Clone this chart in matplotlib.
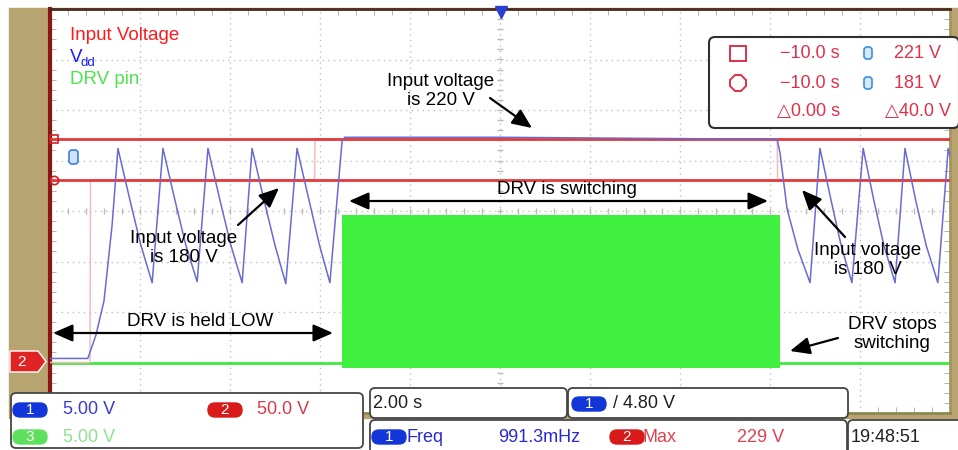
import matplotlib.pyplot as plt
from matplotlib.patches import FancyBboxPatch, Rectangle, Polygon
import numpy as np

plt.rcParams['font.family'] = ['Liberation Sans', 'DejaVu Sans']
NARROW = ['Liberation Sans', 'DejaVu Sans']

# scope settings: 2.00 s/div, trigger at centre of a 10 x 8 graticule
t_lim = (-10.0, 10.0)
ch1_scale, ch2_scale, ch3_scale = 5.0, 50.0, 5.0        # V/div
ch1_offset, ch2_offset, ch3_offset = -2.92, -3.0, -3.0   # ground level, div

# CH1 - Vdd (V)
vdd_t = [-10.0, -9.16, -8.98, -8.80, -8.62, -8.49,
         -8.22, -7.98, -7.73, -7.49,
         -7.22, -6.98, -6.73, -6.49,
         -6.22, -5.98, -5.73, -5.51,
         -5.24, -5.00, -4.76, -4.51,
         -4.24, -4.01, -3.78, -3.51, -3.45,
         0.0, 3.0, 6.16, 6.22, 6.38, 6.62, 6.89, 7.11,
         7.36, 7.58, 7.82, 8.07,
         8.31, 8.53, 8.78, 9.00,
         9.24, 9.47, 9.73, 9.96, 10.0]
vdd_v = [0.0, 0.0, 2.3, 5.7, 13.2, 20.8,
         15.6, 11.2, 7.5, 20.8,
         15.6, 11.2, 7.6, 20.8,
         15.6, 11.2, 7.5, 20.8,
         15.6, 11.2, 7.4, 20.8,
         15.6, 11.2, 7.5, 21.5, 21.9,
         21.9, 21.8, 21.7, 20.4, 14.8, 10.8, 7.5, 20.8,
         15.6, 11.2, 7.5, 20.8,
         15.6, 11.2, 7.5, 20.8,
         15.6, 11.2, 7.5, 20.8, 20.0]

# CH2 - input voltage (V)
vin_t = [-10.0, -9.11, -9.10, -4.12, -4.11, 6.16, 6.17, 10.0]
vin_v = [0, 0, 181, 181, 221, 221, 181, 181]

# CH3 - DRV pin (V)
drv_idle_t = [(-10.0, -3.52), (6.22, 10.0)]
drv_burst_t = [-3.52, 6.22]
drv_burst_hi = 14.6
drv_burst_lo = -0.5

# cursors
cursor_t = -10.0
cursor_v = [221, 181]

# status readouts
ch_scales = ['5.00 V', '50.0 V', '5.00 V']
timebase = '2.00 s'
trigger = '/ 4.80 V'
meas_freq = '991.3mHz'
meas_max = '229 V'
clock = '19:48:51'


def to_div(v, scale, offset):
    return offset + np.asarray(v, dtype=float) / scale


W, H = 958, 450
fig = plt.figure(figsize=(W / 100, H / 100), dpi=100)

bg = fig.add_axes([0, 0, 1, 1], zorder=0)
bg.set_xlim(0, W)
bg.set_ylim(H, 0)
bg.axis('off')
bg.add_patch(Rectangle((9, 8), W - 9, 410, color='#b7a471'))

# graticule
ax = fig.add_axes([50 / W, (H - 413) / H, 900 / W, 404 / H], zorder=1)
ax.set_facecolor('white')
ax.set_xlim(*t_lim)
ax.set_ylim(-4, 4)
ax.set_xticks(np.arange(-10, 10.1, 2))
ax.set_yticks(np.arange(-4, 4.1, 1))
ax.set_xticks(np.arange(-10, 10.01, 0.4), minor=True)
ax.set_yticks(np.arange(-4, 4.01, 0.2), minor=True)
ax.grid(True, color='#c0c0c0', linestyle=(0, (1, 3)), lw=1)
ax.tick_params(which='major', length=0, labelbottom=False, labelleft=False)
ax.tick_params(which='minor', direction='in', length=4, color='#a8a8a8',
               top=True, bottom=True, left=True, right=True)
ax.plot(np.arange(-10, 10.01, 0.4), np.zeros(51), ls='none', marker='|',
        ms=5, color='#bbbbbb', zorder=1)
ax.plot(np.zeros(41), np.arange(-4, 4.01, 0.2), ls='none', marker='_',
        ms=5, color='#bbbbbb', zorder=1)
ax.spines['left'].set_color('#8b1414')
ax.spines['left'].set_linewidth(3)
ax.spines['top'].set_color('#4a2a1a')
ax.spines['top'].set_linewidth(2)
ax.spines['right'].set_color('#a89460')
ax.spines['right'].set_linewidth(2)
ax.spines['bottom'].set_color('#8a8a50')
ax.spines['bottom'].set_linewidth(2)

# DRV pin
for t0, t1 in drv_idle_t:
    ax.plot([t0, t1], to_div([0, 0], ch3_scale, ch3_offset), color='#3ee83e', lw=2, zorder=2)
ax.fill_between(drv_burst_t, to_div(drv_burst_lo, ch3_scale, ch3_offset),
                to_div(drv_burst_hi, ch3_scale, ch3_offset), color='#3ff03f', lw=0, zorder=2)

# input voltage trace and cursors
ax.plot(vin_t, to_div(vin_v, ch2_scale, ch2_offset), color='#f5bcbc', lw=1.1, zorder=3)
for v in cursor_v:
    ax.axhline(to_div(v, ch2_scale, ch2_offset), color='#e23a3a', lw=2, zorder=3)
ax.plot([cursor_t + 0.08], [to_div(cursor_v[0], ch2_scale, ch2_offset)], marker='s', ms=6,
        mfc='none', mec='#d02020', mew=1.2, zorder=4, clip_on=False)
ax.plot([cursor_t + 0.08], [to_div(cursor_v[1], ch2_scale, ch2_offset)], marker='o', ms=6,
        mfc='none', mec='#d02020', mew=1.2, zorder=4, clip_on=False)

# Vdd
ax.plot(vdd_t, to_div(vdd_v, ch1_scale, ch1_offset), color='#6a6ad4', lw=1.1, zorder=4)

# overlay in pixel coordinates
ui = fig.add_axes([0, 0, 1, 1], zorder=2)
ui.set_xlim(0, W)
ui.set_ylim(H, 0)
ui.axis('off')

ui.plot([501], [12], marker='v', ms=9, color='#2a3fd0')
ui.add_patch(FancyBboxPatch((69, 150), 9, 14, boxstyle='round,pad=0,rounding_size=3',
                            fc='#cfe2ff', ec='#3a80e0', lw=1.2))
ui.add_patch(Polygon([(10, 351), (38, 351), (46, 361.5), (38, 372), (10, 372)],
                     closed=True, fc='#e02424', ec='white', lw=1))
ui.text(22, 362, '2', color='white', fontsize=11, ha='center', va='center', family=NARROW)

# legend
ui.text(70, 35, 'Input Voltage', color='#ff1a1a', fontsize=13.5, va='center')
ui.text(70, 58, 'V', color='#1a1aff', fontsize=13.5, va='center')
ui.text(81, 63, 'dd', color='#1a1aff', fontsize=9.5, va='center')
ui.text(70, 80, 'DRV pin', color='#4ce34c', fontsize=13.5, va='center')

# annotations
arrow = dict(arrowstyle='-|>,head_length=0.8,head_width=0.35', mutation_scale=15,
             color='black', lw=1.6, shrinkA=0, shrinkB=0)
darrow = dict(arrowstyle='<|-|>,head_length=0.8,head_width=0.35', mutation_scale=15,
              color='black', lw=1.6, shrinkA=0, shrinkB=0)
fs = 13.5
ui.text(441, 91, 'Input voltage\nis 220 V', fontsize=fs, ha='center', va='center')
ui.annotate('', xy=(532, 128), xytext=(490, 98), arrowprops=arrow)
ui.text(567, 189, 'DRV is switching', fontsize=fs, ha='center', va='center')
ui.annotate('', xy=(349, 201), xytext=(768, 201), arrowprops=darrow)
ui.text(200, 321, 'DRV is held LOW', fontsize=fs, ha='center', va='center')
ui.annotate('', xy=(53, 333), xytext=(333, 333), arrowprops=darrow)
ui.text(184, 248, 'Input voltage\nis 180 V', fontsize=fs, ha='center', va='center')
ui.annotate('', xy=(279, 188), xytext=(238, 225), arrowprops=arrow)
ui.text(868, 260, 'Input voltage\nis 180 V', fontsize=fs, ha='center', va='center')
ui.annotate('', xy=(802, 190), xytext=(845, 237), arrowprops=arrow)
ui.text(892, 334, 'DRV stops\nswitching', fontsize=fs, ha='center', va='center')
ui.annotate('', xy=(790, 351), xytext=(838, 338), arrowprops=arrow)

# cursor readout
red_txt = '#e0304a'
sfs = 13
ui.add_patch(FancyBboxPatch((709, 37), 250, 91, boxstyle='round,pad=0,rounding_size=6',
                            fc='white', ec='#303030', lw=1.5))
ui.add_patch(Rectangle((730, 46), 16, 15, fill=False, ec=red_txt, lw=1.4))
ui.plot([738], [83], marker='8', ms=13, mfc='none', mec=red_txt, mew=1.4)
for y, v in zip([53, 83], cursor_v):
    ui.text(840, y, '\u221210.0 s', color=red_txt, fontsize=sfs, ha='right', va='center', family=NARROW)
    ui.add_patch(FancyBboxPatch((864, y - 6), 8, 12, boxstyle='round,pad=0,rounding_size=3',
                                fc='#d6e8ff', ec='#3a90e0', lw=1.2))
    ui.text(941, y, f'{v} V', color=red_txt, fontsize=sfs, ha='right', va='center', family=NARROW)
ui.text(840, 112, '\u25b30.00 s', color=red_txt, fontsize=sfs, ha='right', va='center', family=NARROW)
ui.text(951, 112, f'\u25b3{cursor_v[0] - cursor_v[1]:.1f} V', color=red_txt, fontsize=sfs,
        ha='right', va='center', family=NARROW)


def box(x, y, w, h):
    ui.add_patch(FancyBboxPatch((x, y), w, h, boxstyle='round,pad=0,rounding_size=5',
                                fc='white', ec='#454545', lw=1.3))


def badge(x, y, label, color):
    ui.add_patch(FancyBboxPatch((x - 17, y - 7), 34, 14, boxstyle='round,pad=0,rounding_size=7',
                                fc=color, ec=color))
    ui.text(x, y, label, color='white', fontsize=11, ha='center', va='center', family=NARROW)


# status bar
box(11, 393, 352, 55)
badge(30, 410, '1', '#1236d8')
ui.text(63, 410, ch_scales[0], color='#3a3ad0', fontsize=sfs, va='center', family=NARROW)
badge(225, 410, '2', '#d81a1a')
ui.text(257, 410, ch_scales[1], color='#d83a4a', fontsize=sfs, va='center', family=NARROW)
badge(30, 437, '3', '#5ee05e')
ui.text(63, 437, ch_scales[2], color='#8ee08e', fontsize=sfs, va='center', family=NARROW)

box(370, 388, 197, 30)
ui.text(373, 404, timebase, color='#202020', fontsize=sfs, va='center', family=NARROW)
box(568, 388, 280, 30)
badge(589, 404, '1', '#1236d8')
ui.text(613, 404, trigger, color='#202020', fontsize=sfs, va='center', family=NARROW)

box(370, 420, 477, 40)
badge(389, 437, '1', '#1236d8')
ui.text(407, 437, 'Freq', color='#2a2ad0', fontsize=sfs, va='center', family=NARROW)
ui.text(498, 437, meas_freq, color='#2a2ad0', fontsize=sfs, va='center', family=NARROW)
badge(627, 437, '2', '#d81a1a')
ui.text(643, 437, 'Max', color='#e04050', fontsize=sfs, va='center', family=NARROW)
ui.text(737, 437, meas_max, color='#e04050', fontsize=sfs, va='center', family=NARROW)

box(848, 420, 120, 40)
ui.text(851, 437, clock, color='#202020', fontsize=sfs, va='center', family=NARROW)

fig.savefig('out.png', dpi=100)
